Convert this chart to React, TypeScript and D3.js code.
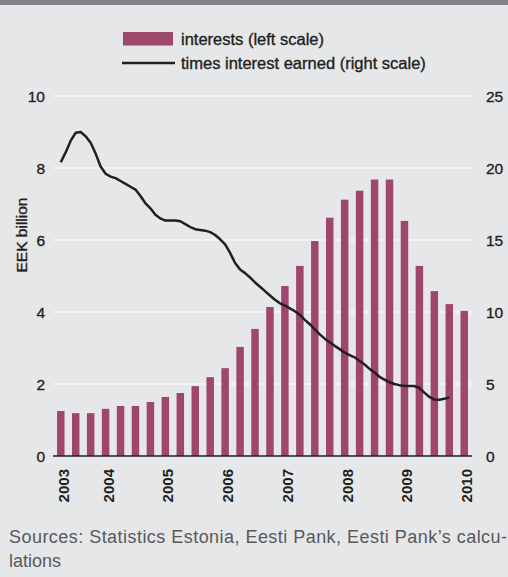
import React from 'react';
import * as d3 from 'd3';

// quarterly interest payments, EEK billion (left scale)
const QUARTERS = [
  '2003Q1', '2003Q2', '2003Q3', '2003Q4',
  '2004Q1', '2004Q2', '2004Q3', '2004Q4',
  '2005Q1', '2005Q2', '2005Q3', '2005Q4',
  '2006Q1', '2006Q2', '2006Q3', '2006Q4',
  '2007Q1', '2007Q2', '2007Q3', '2007Q4',
  '2008Q1', '2008Q2', '2008Q3', '2008Q4',
  '2009Q1', '2009Q2', '2009Q3', '2009Q4',
];
const INTERESTS = [
  1.25, 1.19, 1.19, 1.31, 1.39, 1.39, 1.5, 1.64, 1.75, 1.94, 2.19, 2.44, 3.03, 3.53,
  4.14, 4.72, 5.28, 5.97, 6.62, 7.12, 7.37, 7.68, 7.68, 6.53, 5.28, 4.58, 4.22, 4.03,
];

// times interest earned, monthly (right scale)
const TIE = [
  20.4, 21.1, 21.9, 22.45, 22.5, 22.2, 21.75, 21.0, 20.1, 19.6,
  19.4, 19.3, 19.1, 18.9, 18.7, 18.5, 18.05, 17.55, 17.2, 16.75,
  16.5, 16.35, 16.35, 16.35, 16.3, 16.1, 15.9, 15.75, 15.7, 15.65,
  15.55, 15.35, 15.05, 14.7, 14.1, 13.4, 12.95, 12.7, 12.4, 12.05,
  11.75, 11.45, 11.15, 10.85, 10.6, 10.45, 10.25, 10.05, 9.8, 9.45,
  9.15, 8.8, 8.45, 8.15, 7.9, 7.65, 7.42, 7.18, 7.0, 6.85,
  6.6, 6.35, 6.05, 5.8, 5.5, 5.3, 5.12, 5.0, 4.92, 4.86,
  4.86, 4.86, 4.72, 4.4, 4.1, 3.92, 3.9, 3.97, 4.07,
];

const YEAR_LABELS = ['2003', '2004', '2005', '2006', '2007', '2008', '2009', '2010'];
const YEAR_LABEL_AT = ['2003Q1', '2003Q4', '2004Q4', '2005Q4', '2006Q4', '2007Q4', '2008Q4', '2009Q4'];
const LEFT_TICKS = [0, 2, 4, 6, 8, 10];
const RIGHT_TICKS = [0, 5, 10, 15, 20, 25];

const W = 508;
const H = 577;
const BAR = '#9e466c';
const INK = '#231f20';
const FONT = '"Liberation Sans", Arial, Helvetica, sans-serif';
// fake a medium weight, the original uses Helvetica Neue Medium
const MED = { stroke: INK, strokeWidth: 0.35 };

export default function App() {
  const x = d3.scaleBand<string>().domain(QUARTERS).range([53.3, 471.7]).paddingInner(0.5).paddingOuter(0.25);
  const yL = d3.scaleLinear().domain([0, 10]).range([456, 96]);
  const yR = d3.scaleLinear().domain([0, 25]).range([456, 96]);
  const bw = x.bandwidth();
  const cx = (q: string) => (x(q) ?? 0) + bw / 2;

  // months mapped between first and 27th quarter centre
  const xm = d3.scaleLinear().domain([0, TIE.length - 1]).range([cx(QUARTERS[0]), cx(QUARTERS[26])]);
  const line = d3.line<number>().x((_, i) => xm(i)).y((d) => yR(d));

  const [x0, x1] = [53, 472];

  return (
    <svg width={W} height={H} style={{ position: 'absolute', left: 0, top: 0 }} fontFamily={FONT}>
      <rect width={W} height={H} fill="#e6e7e8" />
      <rect width={W} height={5} fill="#808184" />

      {/* legend */}
      <rect x={123} y={32} width={50} height={13.5} fill={BAR} />
      <text x={181} y={44.5} fontSize={16.5} fill={INK} {...MED}>interests (left scale)</text>
      <line x1={122} x2={175} y1={63} y2={63} stroke={INK} strokeWidth={2.5} />
      <text x={181} y={68.5} fontSize={16.5} fill={INK} {...MED}>times interest earned (right scale)</text>

      {/* grid */}
      {LEFT_TICKS.filter((t) => t > 0).map((t) => (
        <line key={t} x1={x0} x2={x1} y1={yL(t)} y2={yL(t)} stroke="#ffffff" strokeWidth={1.2} />
      ))}

      {/* bars */}
      {QUARTERS.map((q, i) => (
        <rect key={q} x={x(q)} y={yL(INTERESTS[i])} width={bw} height={yL(0) - yL(INTERESTS[i])} fill={BAR} />
      ))}

      <line x1={x0} x2={x1} y1={yL(0)} y2={yL(0)} stroke={INK} strokeWidth={1.5} />

      <path d={line(TIE) ?? ''} fill="none" stroke={INK} strokeWidth={2.5} strokeLinejoin="round" />

      {/* left axis */}
      {LEFT_TICKS.map((t) => (
        <text key={t} x={45} y={yL(t)} dy="0.36em" textAnchor="end" fontSize={15.5} fill={INK} {...MED}>{t}</text>
      ))}
      <text transform={`translate(27,235) rotate(-90)`} textAnchor="middle" fontSize={15.5} fill={INK} {...MED}>EEK billion</text>

      {/* right axis */}
      {RIGHT_TICKS.map((t) => (
        <text key={t} x={486} y={yR(t)} dy="0.36em" fontSize={15.5} fill={INK} {...MED}>{t}</text>
      ))}

      {/* year labels */}
      {YEAR_LABELS.map((lab, i) => (
        <text key={lab} transform={`translate(${cx(YEAR_LABEL_AT[i]) + 2.5},469) rotate(-90)`} dy="0.36em"
          textAnchor="end" fontSize={15} fontWeight="bold" fill={INK}>{lab}</text>
      ))}

      {/* source */}
      <text x={9} y={543} fontSize={18} fill="#58595b" textLength={498} lengthAdjust="spacing">
        Sources: Statistics Estonia, Eesti Pank, Eesti Pank’s calcu-
      </text>
      <text x={9} y={567} fontSize={18} fill="#58595b">lations</text>
    </svg>
  );
}
